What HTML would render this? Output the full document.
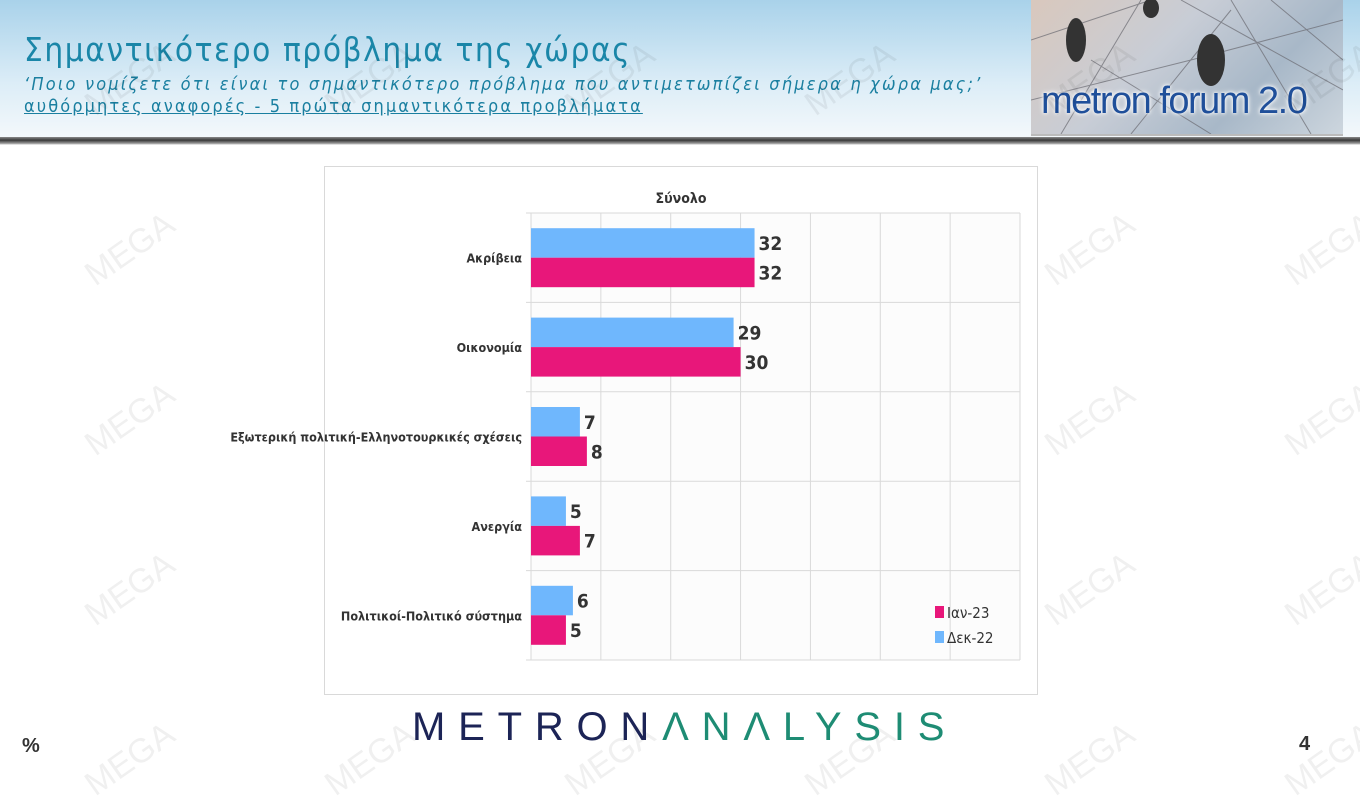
<!DOCTYPE html>
<html><head><meta charset="utf-8">
<style>
body{margin:0;width:1360px;height:765px;overflow:hidden;background:#fff;font-family:"Liberation Sans","DejaVu Sans",sans-serif;position:relative}
#hdr{position:absolute;left:0;top:0;width:1360px;height:139px;background:linear-gradient(#a9d2ea,#dcedf7 60%,#f4f8fb)}
#shadow{position:absolute;left:0;top:137px;width:1360px;height:8px;background:linear-gradient(#8a8a8a,#3a3a3a 40%,#9a9a9a 80%,#fff)}
#title{position:absolute;left:24px;top:30px;font-size:33px;color:#1a86a8;letter-spacing:1.6px;font-family:"DejaVu Sans Condensed","DejaVu Sans",sans-serif}
#sub{position:absolute;left:24px;top:74px;font-size:18px;font-style:italic;color:#1a7fa0;letter-spacing:2.2px;font-family:"DejaVu Sans Condensed","DejaVu Sans",sans-serif}
#sub2{position:absolute;left:24px;top:96px;font-size:18px;color:#1a7fa0;text-decoration:underline;letter-spacing:2.1px;font-family:"DejaVu Sans Condensed","DejaVu Sans",sans-serif}
#logo{position:absolute;left:1031px;top:0;width:312px;height:134px;background:linear-gradient(135deg,#d9c8bd,#c8cdd6 40%,#a8b8c8 70%,#cdd6de);overflow:hidden;border-bottom:2px solid #bbb}
#logo span{position:absolute;left:10px;top:80px;font-size:38px;color:#1f4f9a;letter-spacing:-1.5px;font-family:"Liberation Sans Narrow","Liberation Sans",sans-serif;text-shadow:0 0 6px #fff,0 0 3px #fff}
#brand{position:absolute;left:412px;top:705px;font-size:40px;letter-spacing:12.8px;color:#1c2456;font-family:"Liberation Sans",sans-serif;white-space:nowrap}
#brand b{font-weight:normal;color:#1e8c74}
.wm{position:absolute;color:rgba(0,0,0,0.06);font-size:34px;transform:rotate(-35deg);font-family:"Liberation Sans",sans-serif}
</style></head><body>
<div id="hdr"></div>
<div id="shadow"></div>
<div id="title">Σημαντικότερο πρόβλημα της χώρας</div>
<div id="sub">‘Ποιο νομίζετε ότι  είναι το σημαντικότερο πρόβλημα που αντιμετωπίζει σήμερα η χώρα μας;’</div>
<div id="sub2">αυθόρμητες αναφορές - 5 πρώτα σημαντικότερα προβλήματα</div>
<div id="logo">
<svg width="312" height="134" style="position:absolute;left:0;top:0"><g stroke="#6a6a70" stroke-width="1" fill="none" opacity=".7"><path d="M0 40L120 0M30 134L110 0M100 134L200 10M150 0L312 90M200 0L280 134M0 100L160 60L312 20M240 0L312 60M60 60L180 134"/></g><g fill="#333"><ellipse cx="45" cy="40" rx="10" ry="22"/><ellipse cx="180" cy="60" rx="14" ry="26"/><ellipse cx="120" cy="8" rx="8" ry="10"/></g></svg>
<span>metron forum 2.0</span></div>
<div id="wms"></div>
<svg id="chart" width="1360" height="765" style="position:absolute;left:0;top:0"></svg>
<div id="brand">METRON<b>ΛNΛLYSIS</b></div>
<div style="position:absolute;left:22px;top:735px;font-size:20px;font-weight:bold;color:#333">%</div>
<div style="position:absolute;left:1299px;top:733px;font-size:20px;font-weight:bold;color:#333">4</div>
<script>
const categories=["Ακρίβεια","Οικονομία","Εξωτερική πολιτική-Ελληνοτουρκικές σχέσεις","Ανεργία","Πολιτικοί-Πολιτικό σύστημα"];
const dec22=[32,29,7,5,6];
const jan23=[32,30,8,7,5];
const seriesNames=["Ιαν-23","Δεκ-22"];
const xTicks=[0,10,20,30,40,50,60,70];

const NS="http://www.w3.org/2000/svg";
const svg=document.getElementById('chart');
const CF='"DejaVu Sans Condensed","Liberation Sans Narrow",sans-serif';
function mk(t,a,p){const e=document.createElementNS(NS,t);for(const k in a)e.setAttribute(k,a[k]);(p||svg).appendChild(e);return e;}
const X0=531,X1=1020,Y0=213,Y1=660,xmax=70;
const xs=v=>X0+(X1-X0)*v/xmax;
const band=(Y1-Y0)/categories.length;
let e=mk('rect',{x:324.5,y:166.5,width:713,height:528,fill:'#fff',stroke:'#d9d9d9'});


e=mk('rect',{x:X0,y:Y0,width:X1-X0,height:Y1-Y0,fill:'#fcfcfc'});


xTicks.forEach(t=>{const l=mk('line',{x1:xs(t),x2:xs(t),y1:Y0,y2:Y1,stroke:'#d9d9d9'});

});
for(let i=0;i<=categories.length;i++){const l=mk('line',{x1:X0-5,x2:X1,y1:Y0+i*band,y2:Y0+i*band,stroke:'#d9d9d9'});

}
e=mk('text',{x:681,y:203,'text-anchor':'middle','font-size':14,'font-weight':'bold',fill:'#333','font-family':CF});e.textContent='Σύνολο';


const bh=29.5;
categories.forEach((c,i)=>{
 const cy=Y0+i*band+band/2;
 let t=mk('text',{x:522,y:cy+5,'text-anchor':'end','font-size':12.5,'font-weight':'bold',fill:'#333','font-family':CF});t.textContent=c;
 
 
 let b=mk('rect',{x:X0,y:cy-bh,width:xs(dec22[i])-X0,height:bh,fill:'#6fb7fd'});
 
 
 b=mk('rect',{x:X0,y:cy,width:xs(jan23[i])-X0,height:bh,fill:'#e8177a'});
 
 
 t=mk('text',{x:xs(dec22[i])+4,y:cy-bh/2+7,'font-size':19,'font-weight':'bold',fill:'#333','font-family':CF});t.textContent=dec22[i];
 
 
 t=mk('text',{x:xs(jan23[i])+4,y:cy+bh/2+7,'font-size':19,'font-weight':'bold',fill:'#333','font-family':CF});t.textContent=jan23[i];
 
 
});
const lc=['#e8177a','#6fb7fd'];
seriesNames.forEach((n,i)=>{
 const y=612+i*25;
 let r=mk('rect',{x:935,y:y-6,width:9,height:12,fill:lc[i]});
 
 
 let t=mk('text',{x:947,y:y+6,'font-size':15,fill:'#333','font-family':CF});t.textContent=n;
 
 
});
const wm=document.getElementById('wms');
for(let gx=-40;gx<1400;gx+=240)for(let gy=60;gy<800;gy+=170){const d=document.createElement('div');d.className='wm';d.style.left=(gx+(gy%340?120:0))+'px';d.style.top=gy+'px';d.textContent='MEGA';


wm.appendChild(d);}
</script>
</body></html>
